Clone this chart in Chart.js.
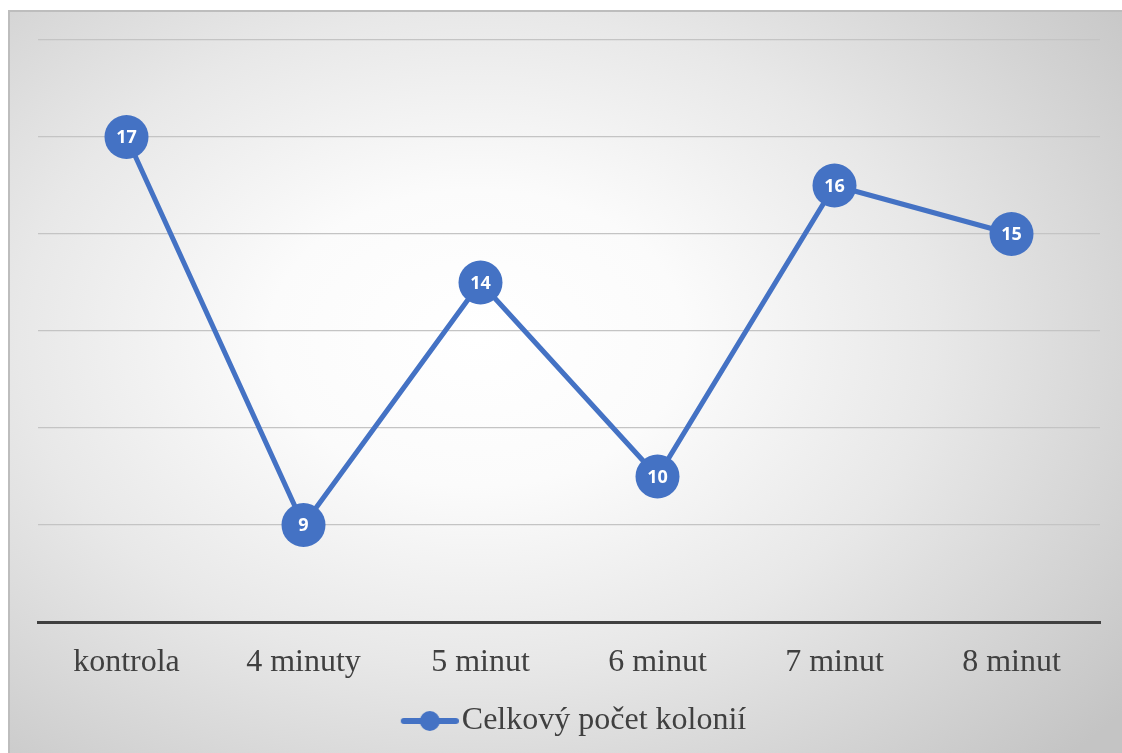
<!DOCTYPE html>
<html>
<head>
<meta charset="utf-8">
<script src="https://cdn.jsdelivr.net/npm/chart.js@4"></script>
<style>
  html, body { margin: 0; padding: 0; background: #fff; }
  #box {
    position: absolute; left: 8px; top: 10px; width: 1114px; height: 743px;
    box-sizing: border-box;
    border-left: 2px solid #bdbdbd; border-top: 2px solid #bdbdbd;
    background: radial-gradient(ellipse 75% 80% at 42% 44%, #ffffff 0%, #fbfbfb 25%, #e8e8e8 55%, #d0d0d0 85%, #c4c4c4 100%);
  }
  #chart { position: absolute; left: -2px; top: -2px; }
</style>
</head>
<body>
<div id="box"><canvas id="chart" width="1114" height="743"></canvas></div>
<script>
// dados
const categorias = ['kontrola', '4 minuty', '5 minut', '6 minut', '7 minut', '8 minut'];
const kolonie = [17, 9, 14, 10, 16, 15];
const nomeSerie = 'Celkový počet kolonií';

const azul = '#4472C4';

// icone da legenda: linha com bolinha (20px vazios à esquerda para deslocar)
const icone = document.createElement('canvas');
icone.width = 78; icone.height = 22;
const ic = icone.getContext('2d');
ic.strokeStyle = azul; ic.lineWidth = 6; ic.lineCap = 'round';
ic.beginPath(); ic.moveTo(23, 11); ic.lineTo(75, 11); ic.stroke();
ic.fillStyle = azul;
ic.beginPath(); ic.arc(49, 11, 10, 0, Math.PI * 2); ic.fill();

// rótulos brancos dentro dos círculos
const rotulos = {
  id: 'rotulos',
  afterDatasetsDraw(chart) {
    const c = chart.ctx;
    const meta = chart.getDatasetMeta(0);
    c.save();
    c.fillStyle = '#fff';
    c.font = 'bold 18px "Open Sans"';
    c.textAlign = 'center';
    c.textBaseline = 'middle';
    meta.data.forEach((p, i) => {
      c.fillText(chart.data.datasets[0].data[i], p.x, p.y + 1);
    });
    c.restore();
  }
};

new Chart(document.getElementById('chart'), {
  type: 'line',
  data: {
    labels: categorias,
    datasets: [{
      label: nomeSerie,
      data: kolonie,
      borderColor: azul,
      backgroundColor: azul,
      borderWidth: 5,
      pointRadius: 22,
      pointHoverRadius: 22,
      pointBackgroundColor: azul,
      pointBorderWidth: 0,
      tension: 0
    }]
  },
  options: {
    responsive: false,
    animation: false,
    layout: { padding: { left: 30, right: 20, top: 30, bottom: 6 } },
    plugins: {
      tooltip: { enabled: false },
      legend: {
        position: 'bottom',
        labels: {
          usePointStyle: true,
          pointStyle: icone,
          pointStyleWidth: 52,
          color: '#404040',
          font: { family: '"Liberation Serif"', size: 32 },
          padding: 10
        }
      }
    },
    scales: {
      x: {
        offset: true,
        grid: { display: false },
        border: { color: '#404040', width: 3 },
        ticks: { color: '#404040', font: { family: '"Liberation Serif"', size: 32 }, padding: 13 },
        afterFit(s) { s.height = 73; }
      },
      y: {
        min: 7, max: 19,
        ticks: { stepSize: 2, display: false },
        grid: { color: '#c4c4c4', lineWidth: 1.3, drawTicks: false },
        border: { display: false },
        afterFit(s) { s.width = 0; }
      }
    }
  },
  plugins: [rotulos]
});
</script>
</body>
</html>
